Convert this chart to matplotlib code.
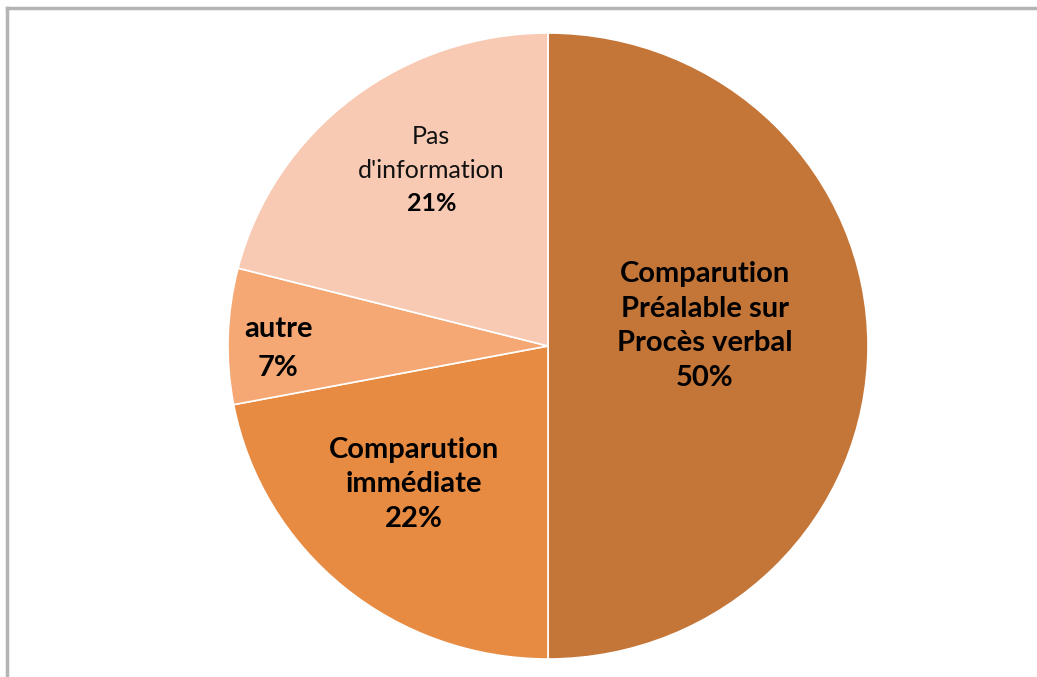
import numpy as np
import matplotlib.pyplot as plt

# slice data, clockwise from 12 o'clock
labels = ["Comparution\nPréalable sur\nProcès verbal", "Comparution\nimmédiate", "autre", "Pas\nd'information"]
shares = [50, 22, 7, 21]
colors = ["#C47538", "#E88B42", "#F5A874", "#F8CAB3"]

fig = plt.figure(figsize=(10.37, 6.77), dpi=100)

# gray frame on top and left edge
fig.add_artist(plt.Line2D([7 / 1037, 1], [1 - 8 / 677, 1 - 8 / 677], color="#b4b4b4", lw=2.5))
fig.add_artist(plt.Line2D([7 / 1037, 7 / 1037], [0, 1 - 8 / 677], color="#b4b4b4", lw=2.5))

ax = fig.add_axes([228 / 1037, 18 / 677, 640 / 1037, 626 / 677])
wedges, _ = ax.pie(shares, colors=colors, startangle=90, counterclock=False,
                   wedgeprops=dict(edgecolor="white", linewidth=1.2))
ax.set_aspect("auto")
ax.set_xlim(-1, 1)
ax.set_ylim(-1, 1)

radii = [0.49, 0.6, 0.84, 0.66]
offsets = [(0, 0.064), (-0.037, 0.02), (-0.003, -0.035), (0.04, 0.038)]
spacing = [1.4, 1.42, 1.6, 1.55]
for w, lab, s, r, off, ls in zip(wedges, labels, shares, radii, offsets, spacing):
    mid = np.deg2rad((w.theta1 + w.theta2) / 2)
    x = r * np.cos(mid) + off[0]
    y = r * np.sin(mid) + off[1]
    if s == 21:
        ax.text(x, y + 0.056, lab, ha="center", va="center", fontsize=18,
                family="Lato", linespacing=ls, color="#111111")
        ax.text(x, y - 0.105, f"{s}%", ha="center", va="center", fontsize=18,
                family="Lato", fontweight="bold")
    else:
        ax.text(x, y, f"{lab}\n{s}%", ha="center", va="center", fontsize=21,
                family="Lato", fontweight="bold", linespacing=ls)

fig.savefig("out.png", dpi=100)
